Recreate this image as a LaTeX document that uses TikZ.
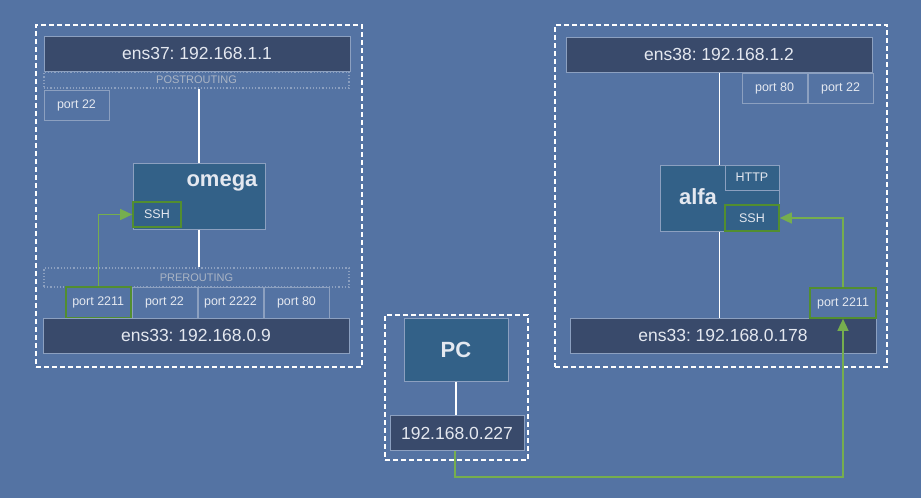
\documentclass[tikz,border=0pt]{standalone}
\usepackage{fontspec}
\setmainfont{Liberation Sans}
\usepackage{tikz}
\usetikzlibrary{positioning,arrows.meta}
\frenchspacing
\definecolor{bgblue}{RGB}{84,115,163}
\definecolor{ifacefill}{RGB}{57,74,107}
\definecolor{hostfill}{RGB}{51,97,136}
\definecolor{edgegrey}{RGB}{140,160,192}
\definecolor{txtgrey}{RGB}{228,232,240}
\definecolor{chaingrey}{RGB}{170,180,196}
\definecolor{fwdgreen}{RGB}{82,142,48}
\definecolor{fwdline}{RGB}{118,174,78}
\tikzset{
  iface node/.style={rectangle,draw=edgegrey,fill=ifacefill,line width=1pt,text=txtgrey,font=\fontsize{17.5}{20}\selectfont,minimum height=35pt,inner sep=0pt},
  host node/.style={rectangle,draw=edgegrey,fill=hostfill,line width=1pt,inner sep=0pt},
  host label/.style={text=txtgrey,font=\fontsize{22}{24}\selectfont\bfseries,inner sep=0pt},
  port node/.style={rectangle,draw=edgegrey,line width=1pt,text=txtgrey,font=\fontsize{12.5}{14}\selectfont,minimum width=65pt,minimum height=30pt,inner sep=0pt},
  svc node/.style={rectangle,draw=edgegrey,fill=hostfill,line width=1pt,text=txtgrey,font=\fontsize{12.5}{14}\selectfont,inner sep=0pt},
  fwd box/.style={draw=fwdgreen,line width=1.6pt},
  chain node/.style={rectangle,draw=edgegrey,dotted,line width=1.2pt,text=chaingrey,font=\fontsize{11}{13}\selectfont,minimum width=305pt,inner sep=0pt},
  frame node/.style={rectangle,draw=white,dash pattern=on 5pt off 3pt,line width=1.5pt,inner sep=0pt},
  wire/.style={draw=white,line width=1.1pt},
  fwd/.style={draw=fwdline,line width=1.4pt,-{Triangle[length=12pt,width=11pt]}},
}

\begin{document}
\begin{tikzpicture}[x=1pt,y=-1pt]
    \fill[bgblue] (0,0) rectangle (921,498);
    \useasboundingbox (0,0) rectangle (921,498);

    % omega
    \node[frame node,minimum width=326pt,minimum height=342pt] (lframe) at (199,196) {};
    \node[iface node,minimum width=306pt] (ens37) at (197,53.5) {ens37: 192.168.1.1};
    \node[chain node,minimum height=16pt] (post) at (196.5,80) {POSTROUTING};
    \node[port node] (lp22top) at (76.5,105) {\raisebox{-4pt}{port 22}};
    \node[host node,minimum width=132pt,minimum height=66pt] (omega) at (199,196) {};
    \node[host label] (omegalbl) at (222,183) {omega};
    \node[svc node,fwd box,minimum width=48pt,minimum height=25pt] (lssh) at (157,214.5) {SSH};
    \node[chain node,minimum height=19pt] (pre) at (196.5,277.5) {\raisebox{-3pt}{PREROUTING}};
    \node[port node,minimum height=31pt] (lp22) at (164.5,302.5) {\raisebox{-4pt}{port 22}};
    \node[port node,minimum height=31pt] (lp2222) [right=0pt of lp22] {\raisebox{-4pt}{port 2222}};
    \node[port node,minimum height=31pt] (lp80) [right=0pt of lp2222] {\raisebox{-4pt}{port 80}};
    \node[port node,fwd box,minimum height=31pt] (lp2211) [left=0pt of lp22] {\raisebox{-4pt}{port 2211}};
    \node[iface node,minimum width=306pt] (lens33) at (196,335.5) {ens33: 192.168.0.9};

    \path[wire] (omega.north) -- (omega.north |- post.south);
    \path[wire] (omega.south) -- (omega.south |- pre.north);
    \path[fwd] (lp2211.north) |- (lssh.west);

    % alfa
    \node[frame node,minimum width=332pt,minimum height=342pt] (rframe) at (721,196) {};
    \node[iface node,minimum width=306pt] (ens38) at (719,54.5) {ens38: 192.168.1.2};
    \node[port node] (rp80) at (774.5,88) {port 80};
    \node[port node] (rp22) [right=0pt of rp80] {port 22};
    \node[host node,minimum width=119pt,minimum height=66pt] (alfa) at (719.5,198) {};
    \node[host label] (alfalbl) at (698,197) {alfa};
    \node[svc node,minimum width=54pt,minimum height=25pt] (http) at (752,177.5) {HTTP};
    \node[svc node,fwd box,minimum width=54pt,minimum height=26pt] (rssh) at (752,218) {SSH};
    \node[iface node,minimum width=306pt] (rens33) at (723,335.5) {ens33: 192.168.0.178};
    \node[port node,fwd box,minimum width=66pt] (rp2211) at (843,303) {\raisebox{-4pt}{port 2211}};

    \path[wire] (ens38.south -| alfa.north) -- (alfa.north);
    \path[wire] (alfa.south) -- (alfa.south |- rens33.north);
    \path[fwd] (rp2211.north) |- (rssh.east);

    % PC
    \node[frame node,minimum width=143pt,minimum height=145pt] (pcframe) at (456.5,387.5) {};
    \node[host node,minimum width=104pt,minimum height=63pt,text=txtgrey,font=\fontsize{22}{24}\selectfont\bfseries] (pc) at (456,349.5) {PC};
    \node[iface node,minimum width=134pt] (pcip) at (457,433) {192.168.0.227};
    \coordinate (bend) at (455,477);

    \path[wire] (pc.south) -- (pc.south |- pcip.north);
    \path[fwd] (pcip.south -| bend) -- (bend) -| (rp2211.south);
\end{tikzpicture}
\end{document}
